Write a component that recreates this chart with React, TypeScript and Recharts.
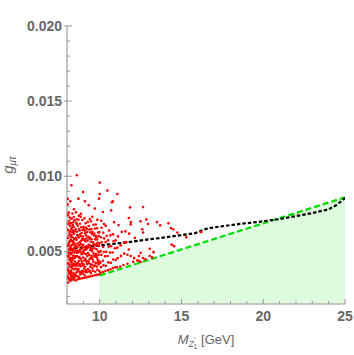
import { Area, ComposedChart, Line, Scatter, XAxis, YAxis } from "recharts";

// y values are in units of 10^-3 (axis labels divide by 1000)
const X_TICKS = [8, 9, 10, 11, 12, 13, 14, 15, 16, 17, 18, 19, 20, 21, 22, 23, 24, 25];
const X_LABELS = [10, 15, 20, 25];
const Y_TICKS = [2, 3, 4, 5, 6, 7, 8, 9, 10, 11, 12, 13, 14, 15, 16, 17, 18, 19, 20];
const Y_LABELS = [5, 10, 15, 20];

// green dashed bound (excluded region below it)
const BOUND_X = [10, 25];
const BOUND_Y = [3.4, 8.6];

// black dotted limit
const LIMIT_X = [8.1, 9, 10, 11, 12, 13, 14, 15, 15.8, 16.5, 17, 18, 19, 20, 21, 22, 23, 24, 24.5, 25];
const LIMIT_Y = [5.13, 5.27, 5.4, 5.52, 5.65, 5.8, 5.93, 6.08, 6.2, 6.5, 6.6, 6.75, 6.88, 7.0, 7.15, 7.35, 7.55, 7.8, 8.1, 8.55];

// scanned points [M, g x 10^3]
const POINTS: [number, number][] = [
  [8.06,2.93],[8.09,3.21],[8.05,3.33],[8.11,3.67],[8.07,3.79],[8.12,4.16],[8.05,4.22],[8.1,4.63],[8.08,4.71],[8.13,5.09],[8.06,5.38],[8.11,5.47],[8.07,5.91],[8.12,6.03],[8.05,6.44],[8.09,6.83],[8.12,6.97],[8.06,7.41],[8.1,7.58],[8.04,8.12],[8.05,8.5],
  [8.17,3.01],[8.21,3.19],[8.18,3.56],[8.23,3.63],[8.16,4.04],[8.24,4.31],[8.19,4.39],[8.22,4.82],[8.17,4.97],[8.24,5.22],[8.2,5.29],[8.18,5.71],[8.23,5.79],[8.16,6.17],[8.21,6.36],[8.19,6.71],[8.24,6.88],[8.17,7.26],[8.2,8.33],[8.27,9.4],
  [8.28,3.09],[8.32,3.24],[8.26,3.49],[8.34,3.86],[8.3,4.13],[8.27,4.27],[8.35,4.58],[8.29,4.91],[8.33,5.03],[8.28,5.41],[8.36,5.62],[8.31,5.69],[8.27,6.09],[8.34,6.28],[8.3,6.59],[8.36,6.76],[8.28,7.18],[8.33,7.52],[8.43,7.8],
  [8.41,3.13],[8.44,3.44],[8.39,3.57],[8.46,3.82],[8.42,4.19],[8.48,4.33],[8.38,4.51],[8.45,4.92],[8.41,5.13],[8.47,5.27],[8.39,5.66],[8.44,5.82],[8.42,6.18],[8.48,6.34],[8.4,6.62],[8.46,7.07],[8.41,7.29],
  [8.14,3.12],[8.25,3.72],[8.37,3.37],[8.15,4.47],[8.26,3.96],[8.36,4.72],[8.13,4.87],[8.25,5.11],[8.38,5.18],[8.14,5.61],[8.26,5.97],[8.37,5.46],[8.15,6.31],[8.26,6.49],[8.38,6.39],[8.13,3.96],[8.34,4.04],[8.24,4.56],[8.47,4.07],[8.48,4.68],[8.16,5.19],[8.35,5.93],[8.47,5.53],[8.14,7.03],[8.38,6.93],[8.12,3.51],[8.33,3.16],[8.24,3.36],[8.46,3.26],[8.1,4.94],[8.31,4.41],
  [8.52,3.06],[8.55,3.37],[8.51,3.49],[8.57,3.86],[8.53,4.09],[8.59,4.19],[8.5,4.58],[8.56,4.69],[8.54,5.02],[8.6,5.27],[8.52,5.39],[8.58,5.77],[8.55,5.89],[8.61,6.31],[8.53,6.48],[8.57,6.91],[8.6,7.14],[8.7,8.51],[8.6,10.07],
  [8.65,3.14],[8.68,3.33],[8.64,3.71],[8.7,3.82],[8.66,4.23],[8.72,4.36],[8.63,4.68],[8.69,4.93],[8.67,5.04],[8.73,5.41],[8.65,5.53],[8.71,5.92],[8.68,6.05],[8.74,6.47],[8.66,6.69],[8.7,7.11],[8.73,7.38],
  [8.78,3.18],[8.81,3.47],[8.77,3.64],[8.83,4.02],[8.79,4.14],[8.85,4.51],[8.76,4.63],[8.82,4.97],[8.8,5.11],[8.86,5.48],[8.78,5.62],[8.84,6.01],[8.81,6.14],[8.87,6.61],[8.79,6.84],[8.83,7.31],[8.98,8.95],
  [8.92,3.21],[8.95,3.53],[8.91,3.69],[8.97,4.07],[8.93,4.21],[8.99,4.59],[8.9,4.81],[8.96,4.94],[8.94,5.31],[9.0,5.44],[8.92,5.83],[8.98,5.99],[8.95,6.42],[9.01,6.63],[8.93,7.09],[9.1,8.33],
  [9.05,3.24],[9.08,3.43],[9.04,3.86],[9.1,3.98],[9.06,4.39],[9.12,4.51],[9.03,4.88],[9.09,5.14],[9.07,5.26],[9.13,5.67],[9.05,5.81],[9.11,6.21],[9.08,6.38],[9.14,6.87],[9.06,7.21],
  [9.18,3.27],[9.21,3.61],[9.17,3.76],[9.23,4.16],[9.19,4.31],[9.25,4.69],[9.16,4.83],[9.22,5.19],[9.2,5.34],[9.26,5.72],[9.18,5.86],[9.24,6.29],[9.21,6.49],[9.27,6.96],[9.33,8.07],
  [8.6,3.61],[8.74,3.26],[8.88,3.57],[9.02,3.67],[9.15,3.63],[8.62,4.06],[8.75,4.07],[8.89,4.36],[9.02,4.14],[9.15,4.41],[8.62,4.91],[8.75,4.56],[8.89,5.17],[9.02,5.03],[9.15,5.13],[8.63,5.29],[8.76,5.42],[8.88,5.71],[9.03,5.77],[9.16,6.07],[8.63,6.09],[8.77,6.39],[8.89,6.22],[9.02,6.47],[9.16,6.58],[8.6,6.83],[8.55,7.6],[8.85,7.5],
  [9.3,3.31],[9.33,3.66],[9.29,3.81],[9.35,4.21],[9.31,4.36],[9.37,4.77],[9.28,4.89],[9.34,5.28],[9.32,5.44],[9.38,5.84],[9.3,5.98],[9.36,6.46],[9.33,6.69],[9.39,7.16],
  [9.43,3.34],[9.46,3.57],[9.42,3.98],[9.48,4.13],[9.44,4.54],[9.5,4.69],[9.41,5.09],[9.47,5.24],[9.45,5.64],[9.51,5.81],[9.43,6.27],[9.49,6.48],[9.46,7.01],
  [9.56,3.37],[9.59,3.71],[9.55,3.89],[9.61,4.31],[9.57,4.46],[9.63,4.86],[9.54,5.01],[9.6,5.43],[9.58,5.61],[9.64,6.06],[9.56,6.29],[9.62,6.77],[9.7,7.85],
  [9.7,3.41],[9.73,3.64],[9.69,4.06],[9.75,4.24],[9.71,4.64],[9.77,4.82],[9.68,5.21],[9.74,5.39],[9.72,5.81],[9.78,6.03],[9.7,6.52],[9.76,6.79],
  [9.83,3.44],[9.86,3.78],[9.82,3.99],[9.88,4.42],[9.84,4.58],[9.9,4.99],[9.81,5.14],[9.87,5.58],[9.85,5.79],[9.91,6.26],[9.83,6.54],[10.0,9.58],
  [9.95,3.46],[9.98,3.69],[9.94,4.14],[9.99,4.33],[9.93,4.77],[9.97,4.94],[9.95,5.37],[9.99,5.56],[9.94,6.02],[9.97,6.28],[9.96,8.51],[10.0,8.82],
  [9.4,3.71],[9.52,4.11],[9.65,4.03],[9.79,4.21],[9.92,4.28],[9.39,4.49],[9.53,4.57],[9.66,4.72],[9.8,4.71],[9.4,5.41],[9.53,5.16],[9.66,5.49],[9.8,5.46],[9.92,5.39],[9.4,5.93],[9.53,6.16],[9.67,6.19],[9.8,5.94],[9.55,7.3],[9.85,7.1],
  [10.05,3.57],[10.08,3.96],[10.04,4.24],[10.1,4.77],[10.06,5.03],[10.12,5.61],[10.07,5.94],[10.11,6.57],[10.09,7.04],[10.2,7.62],
  [10.2,3.63],[10.23,4.07],[10.19,4.38],[10.25,4.96],[10.21,5.29],[10.27,5.87],[10.22,6.24],[10.26,6.82],
  [10.35,3.69],[10.38,4.04],[10.33,4.67],[10.4,4.98],[10.36,5.62],[10.42,6.04],[10.47,9.05],[10.37,6.71],
  [10.5,3.75],[10.53,4.27],[10.48,4.69],[10.55,5.32],[10.51,5.74],[10.57,6.39],[10.7,7.73],
  [10.65,3.81],[10.68,4.24],[10.63,4.92],[10.7,5.34],[10.66,6.07],[10.75,8.27],[10.8,8.33],
  [10.8,3.89],[10.83,4.46],[10.79,4.93],[10.85,5.67],[10.82,6.13],[10.88,6.94],
  [10.95,3.94],[10.98,4.43],[10.93,5.21],[10.97,5.74],[11.08,8.82],
  [11.05,3.95],[11.1,4.55],[11.08,5.25],[11.12,6.0],[11.15,6.75],
  [11.25,4.0],[11.3,4.7],[11.28,5.4],[11.35,6.3],
  [11.45,4.1],[11.5,4.85],[11.48,5.6],[11.57,6.33],
  [11.63,5.62],[11.7,4.18],[11.7,4.78],[11.78,5.13],[11.8,6.18],[11.78,7.22],[11.86,7.93],[11.9,6.95],[11.9,6.8],[11.9,4.69],
  [12.05,4.3],[12.1,4.55],[12.15,5.9],
  [12.3,4.4],[12.4,4.69],[12.4,4.36],[12.5,4.91],[12.5,7.0],[12.5,4.29],[12.6,6.47],
  [12.65,7.95],[12.65,6.25],[12.65,4.55],[12.8,4.47],[12.85,7.13],[12.95,6.82],[13.06,4.69],[13.06,5.18],[13.3,4.95],[13.2,4.6],[13.5,6.95],[13.7,6.73],[14.2,6.87],[14.35,6.55],[14.5,6.47],[14.75,6.25],[14.4,5.45],[14.55,5.35],[15.3,5.95],[16.2,6.28],
];

const boundData = BOUND_X.map((x, i) => ({ x, y: BOUND_Y[i] }));
const limitData = LIMIT_X.map((x, i) => ({ x, y: LIMIT_Y[i] }));
const pointData = POINTS.map(([x, y]) => ({ x, y }));

const RED = "#ff0000";
const GREEN = "#00dd00";
const FILL = "#ddfcdd";
const LABEL = "#666666";
const TICK = "#999999";
const FONT = "'Liberation Sans', Arial, sans-serif";

const labelStyle = { fontFamily: FONT, fontSize: 14, fontWeight: 700, fill: LABEL };

function BottomTick({ x, y, payload }: any) {
  const major = X_LABELS.includes(payload.value);
  return (
    <g>
      <line x1={x} x2={x} y1={y} y2={y - (major ? 5 : 3)} stroke={TICK} />
      {major && (
        <text x={x} y={y + 17} textAnchor="middle" style={labelStyle}>
          {payload.value}
        </text>
      )}
    </g>
  );
}

function LeftTick({ x, y, payload }: any) {
  const major = Y_LABELS.includes(payload.value);
  return (
    <g>
      <line x1={major ? x - 3 : x} x2={x + (major ? 5 : 3)} y1={y} y2={y} stroke={TICK} />
      {major && (
        <text x={x - 5} y={y + 5} textAnchor="end" style={labelStyle}>
          {(payload.value / 1000).toFixed(3)}
        </text>
      )}
    </g>
  );
}

function TopTick({ x, y, payload }: any) {
  const major = X_LABELS.includes(payload.value);
  return <line x1={x} x2={x} y1={y} y2={y + (major ? 5 : 3)} stroke={TICK} />;
}

function RightTick({ x, y, payload }: any) {
  const major = Y_LABELS.includes(payload.value);
  return <line x1={x} x2={x - (major ? 5 : 3)} y1={y} y2={y} stroke={TICK} />;
}

export default function App() {
  return (
    <div style={{ position: "absolute", left: 0, top: 0, width: 354, height: 355, background: "#fff" }}>
      <ComposedChart width={354} height={355} margin={{ top: 26, right: 9, bottom: 0, left: 0 }}>
        <Area
          data={boundData}
          dataKey="y"
          type="linear"
          stroke="none"
          fill={FILL}
          fillOpacity={1}
          isAnimationActive={false}
        />
        <Line
          data={boundData}
          dataKey="y"
          type="linear"
          stroke={GREEN}
          strokeWidth={2.2}
          strokeDasharray="6 3"
          dot={false}
          isAnimationActive={false}
        />
        <Scatter
          data={pointData}
          dataKey="y"
          isAnimationActive={false}
          shape={(p: any) => <circle cx={p.cx} cy={p.cy} r={1.3} fill={RED} />}
        />
        <Line
          data={limitData}
          dataKey="y"
          type="linear"
          stroke="#000"
          strokeWidth={2.2}
          strokeDasharray="3.5 2"
          dot={false}
          isAnimationActive={false}
        />
        <XAxis
          type="number"
          dataKey="x"
          domain={[8, 25]}
          allowDataOverflow
          ticks={X_TICKS}
          interval={0}
          tickSize={0}
          tickMargin={0}
          tickLine={false}
          tick={(p: any) => <BottomTick {...p} />}
          height={51}
          axisLine={{ stroke: "#b4b4b4", strokeWidth: 1.5 }}
        />
        <YAxis
          type="number"
          dataKey="y"
          domain={[1.5, 20]}
          allowDataOverflow
          ticks={Y_TICKS}
          interval={0}
          tickSize={0}
          tickMargin={0}
          tickLine={false}
          tick={(p: any) => <LeftTick {...p} />}
          width={67}
          axisLine={{ stroke: "#c4c4c4", strokeWidth: 2 }}
        />
        <XAxis
          xAxisId="top"
          orientation="top"
          type="number"
          domain={[8, 25]}
          allowDataOverflow
          ticks={X_TICKS}
          interval={0}
          tickSize={0}
          tickMargin={0}
          tickLine={false}
          tick={(p: any) => <TopTick {...p} />}
          height={0}
          axisLine={{ stroke: "#999" }}
        />
        <YAxis
          yAxisId="right"
          orientation="right"
          type="number"
          domain={[1.5, 20]}
          allowDataOverflow
          ticks={Y_TICKS}
          interval={0}
          tickSize={0}
          tickMargin={0}
          tickLine={false}
          tick={(p: any) => <RightTick {...p} />}
          width={0}
          axisLine={{ stroke: "#999" }}
        />
      </ComposedChart>
      <svg width={354} height={355} style={{ position: "absolute", left: 0, top: 0, pointerEvents: "none" }}>
        <text x={206} y={344} textAnchor="middle" fill={LABEL} fontFamily={FONT} fontSize={13}>
          <tspan fontStyle="italic">M</tspan>
          <tspan fontStyle="italic" fontSize={9} dy={3}>Z</tspan>
          <tspan fontSize={8} dy={-5}>′</tspan>
          <tspan fontSize={7} dx={-2} dy={7}>1</tspan>
          <tspan dy={-5}> [GeV]</tspan>
        </text>
        <text
          transform="rotate(-90)"
          x={-165}
          y={13}
          textAnchor="middle"
          fill={LABEL}
          fontFamily={FONT}
        >
          <tspan fontStyle="italic" fontSize={15}>g</tspan>
          <tspan fontStyle="italic" fontSize={10} dy={3}>μτ</tspan>
        </text>
      </svg>
    </div>
  );
}
